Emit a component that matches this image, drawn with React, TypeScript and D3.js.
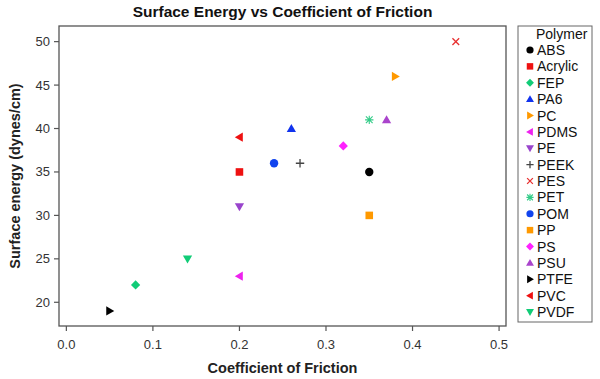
import React from "react";
import * as d3 from "d3";

const polymers = ["ABS","Acrylic","FEP","PA6","PC","PDMS","PE","PEEK","PES","PET","POM","PP","PS","PSU","PTFE","PVC","PVDF"];
const friction = [0.35,0.2,0.08,0.26,0.38,0.2,0.2,0.27,0.45,0.35,0.24,0.35,0.32,0.37,0.05,0.2,0.14];
const energy = [35,35,22,40,46,23,31,36,50,41,36,30,38,41,19,39,25];
const shapes = ["circle","square","diamond","triUp","triRight","triLeft","triDown","plus","cross","asterisk","circle","square","diamond","triUp","triRight","triLeft","triDown"];
const colors = ["#000000","#ee1111","#11cc77","#1133ee","#ff9900","#ee22ee","#9944cc","#444444","#e83030","#33cc88","#1144ee","#ff9900","#ff22ff","#aa44cc","#000000","#ee1111","#11cc77"];
const xTicks = [0,0.1,0.2,0.3,0.4,0.5];
const yTicks = [20,25,30,35,40,45,50];

const W = 600, H = 379;
const L = 59, R = 506, T = 26, B = 326;

function Marker({ shape, color, x, y, s = 4.2 }: { shape: string; color: string; x: number; y: number; s?: number }) {
  const t = `translate(${x},${y})`;
  switch (shape) {
    case "circle":
      return <circle cx={x} cy={y} r={s} fill={color} />;
    case "square":
      return <rect x={x - s * 0.9} y={y - s * 0.9} width={s * 1.8} height={s * 1.8} fill={color} />;
    case "diamond":
      return <path transform={t} d={`M0,${-s * 1.1}L${s * 1.1},0L0,${s * 1.1}L${-s * 1.1},0Z`} fill={color} />;
    case "triUp":
      return <path transform={t} d={`M0,${-s * 1.1}L${s * 1.1},${s * 0.8}L${-s * 1.1},${s * 0.8}Z`} fill={color} />;
    case "triDown":
      return <path transform={t} d={`M0,${s * 1.1}L${s * 1.1},${-s * 0.8}L${-s * 1.1},${-s * 0.8}Z`} fill={color} />;
    case "triRight":
      return <path transform={t} d={`M${s * 1.1},0L${-s * 0.8},${s * 1.1}L${-s * 0.8},${-s * 1.1}Z`} fill={color} />;
    case "triLeft":
      return <path transform={t} d={`M${-s * 1.1},0L${s * 0.8},${s * 1.1}L${s * 0.8},${-s * 1.1}Z`} fill={color} />;
    case "plus":
      return <path transform={t} d={`M${-s},0L${s},0M0,${-s}L0,${s}`} stroke={color} strokeWidth={1.3} fill="none" />;
    case "cross":
      return <path transform={t} d={`M${-s * 0.8},${-s * 0.8}L${s * 0.8},${s * 0.8}M${-s * 0.8},${s * 0.8}L${s * 0.8},${-s * 0.8}`} stroke={color} strokeWidth={1.3} fill="none" />;
    case "asterisk":
      return <path transform={t} d={`M${-s * 0.8},${-s * 0.8}L${s * 0.8},${s * 0.8}M${-s * 0.8},${s * 0.8}L${s * 0.8},${-s * 0.8}M${-s},0L${s},0M0,${-s}L0,${s}`} stroke={color} strokeWidth={1.1} fill="none" />;
    default:
      return null;
  }
}

export default function App() {
  const x = d3.scaleLinear().domain([-0.0085, 0.508]).range([L, R]);
  const y = d3.scaleLinear().domain([17.27, 51.8]).range([B, T]);
  const font = "Arial, 'Liberation Sans', sans-serif";
  const legendY0 = 50;
  const legendStep = 16.375;
  return (
    <svg width={W} height={H} style={{ position: "absolute", left: 0, top: 0, background: "#fff" }} fontFamily={font}>
      <text x={(L + R) / 2} y={17} textAnchor="middle" fontSize={15.5} fontWeight="bold" fill="#111">Surface Energy vs Coefficient of Friction</text>
      <rect x={L} y={T} width={R - L} height={B - T} fill="none" stroke="#555" strokeWidth={1.3} />
      {xTicks.map((v) => (
        <g key={"x" + v}>
          <line x1={x(v)} x2={x(v)} y1={B} y2={B + 5} stroke="#555" strokeWidth={1.2} />
          <text x={x(v)} y={B + 23} textAnchor="middle" fontSize={13} fill="#333">{v.toFixed(1)}</text>
        </g>
      ))}
      {yTicks.map((v) => (
        <g key={"y" + v}>
          <line x1={L - 5} x2={L} y1={y(v)} y2={y(v)} stroke="#555" strokeWidth={1.2} />
          <text x={L - 9} y={y(v) + 4.5} textAnchor="end" fontSize={13} fill="#333">{v}</text>
        </g>
      ))}
      <text x={(L + R) / 2} y={373} textAnchor="middle" fontSize={14.5} fontWeight="bold" fill="#222">Coefficient of Friction</text>
      <text transform={`translate(20,${(T + B) / 2}) rotate(-90)`} textAnchor="middle" fontSize={14.5} fontWeight="bold" fill="#222">Surface energy (dynes/cm)</text>
      {polymers.map((p, i) => (
        <Marker key={p} shape={shapes[i]} color={colors[i]} x={x(friction[i])} y={y(energy[i])} />
      ))}
      <rect x={518} y={26} width={74} height={296} fill="none" stroke="#666" strokeWidth={1} />
      <text x={536} y={39} fontSize={14} fill="#111">Polymer</text>
      {polymers.map((p, i) => (
        <g key={"l" + p}>
          <Marker shape={shapes[i]} color={colors[i]} x={530} y={legendY0 + i * legendStep} s={3.6} />
          <text x={537} y={legendY0 + i * legendStep + 5} fontSize={14} fill="#111">{p}</text>
        </g>
      ))}
    </svg>
  );
}
